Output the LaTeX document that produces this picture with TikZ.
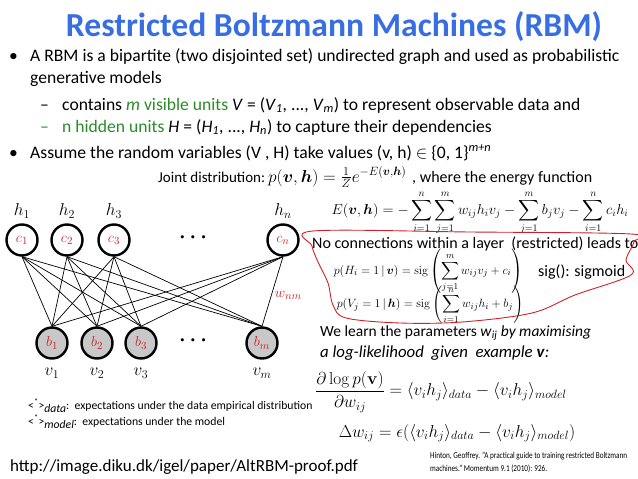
\documentclass[tikz,border=0pt]{standalone}
\usepackage{amsmath,amssymb}
\usepackage[no-math]{fontspec}
\setmainfont{Carlito}
\definecolor{titleblue}{RGB}{55,110,225}
\definecolor{unitgreen}{RGB}{40,140,40}
\definecolor{markred}{RGB}{205,35,40}
\definecolor{visgray}{RGB}{200,200,200}
\newcommand{\fs}[1]{\fontsize{#1}{#1}\selectfont}
\newcommand{\expsub}[1]{<\textsuperscript{*}>\raisebox{-0.55ex}{\textit{#1}}}
\tikzset{txt/.style={anchor=base west,inner sep=0pt},
 unit/.style={circle,draw,line width=2.4pt,minimum size=31pt,inner sep=0pt,font=\fs{15}},
 vis/.style={unit,fill=visgray},
 link/.style={line width=0.7pt},
 every node/.style={font=\fs{17.6}}}

\begin{document}
\begin{tikzpicture}[x=1pt,y=-1pt]
\useasboundingbox (0,0) rectangle (638,479);
\node[font=\fs{33.6}\bfseries,text=titleblue] (title) at (334,27) {Restricted Boltzmann Machines (RBM)};
\node[txt] (bul1) at (9,61) {•};
\node[txt] (line1) at (30,61) {A RBM is a bipartite (two disjointed set) undirected graph and used as probabilistic};
\node[txt] (line2) at (30,83) {generative models};
\node[txt] (dash1) at (40,110) {–};
\node[txt] (line3) at (62,110) {contains \textcolor{unitgreen}{\textit{m} visible units} \textit{V} = (\textit{V}\textsubscript{\textit{1}}, ..., \textit{V}\textsubscript{\textit{m}}) to represent observable data and};
\node[txt,text=unitgreen] (dash2) at (40,132) {–};
\node[txt] (line4) at (62,132) {\textcolor{unitgreen}{n hidden units} \textit{H} = (\textit{H}\textsubscript{\textit{1}}, ..., \textit{H}\textsubscript{\textit{n}}) to capture their dependencies};
\node[txt] (bul2) at (9,158) {•};
\node[txt] (line5) at (30,158) {Assume the random variables (V , H) take values (v, h) $\in$ \{0, 1\}\textsuperscript{\textit{m+n}}};
\node[txt,font=\fs{15}] (joint) at (158,182) {Joint distribution:};
\node[txt] (pjoint) at (268,182) {$p(\boldsymbol{v},\boldsymbol{h})=\frac{1}{Z}e^{-E(\boldsymbol{v},\boldsymbol{h})}$};
\node[txt,font=\fs{16}] (where) at (412,182) {, where the energy function};
\node[font=\fs{14.6}] (energy) at (480,213) {$\displaystyle E(\boldsymbol{v},\boldsymbol{h})=-\sum_{i=1}^{n}\sum_{j=1}^{m}w_{ij}h_iv_j-\sum_{j=1}^{m}b_jv_j-\sum_{i=1}^{n}c_ih_i$};
\node[txt,font=\fs{16}] (noconn) at (312,248) {No connections within a layer\ \ (restricted) leads to};
\node[font=\fs{12.5}] (pH) at (428,271) {$\displaystyle p(H_i=1\,|\,\boldsymbol{v})=\operatorname{sig}\left(\sum_{j=1}^{m}w_{ij}v_j+c_i\right)$};
\node[txt,font=\fs{16}] (sig) at (538,276) {sig(): sigmoid};
\node[font=\fs{12.5}] (pV) at (430,305) {$\displaystyle p(V_j=1\,|\,\boldsymbol{h})=\operatorname{sig}\left(\sum_{i=1}^{n}w_{ij}h_i+b_j\right)$};
\draw[markred,line width=0.9pt] plot[smooth cycle,tension=0.55] coordinates {(313,231) (470,232) (631,234) (634,242) (626,260) (631,275) (575,295) (532,313) (462,322) (400,323) (346,318) (333,305) (328,283) (318,262) (312,246)};
\node[txt,font=\fs{15.5}] (learn1) at (320,336) {We learn the parameters \textit{w}\textsubscript{\textit{ij}} \textit{by maximising}};
\node[txt,font=\fs{16.8}] (learn2) at (320,357) {\textit{a log-likelihood\ \ given\ \ example }\textbf{\textit{v}}\textit{:}};
\node[font=\fs{17.4}] (grad) at (441,392) {$\displaystyle\frac{\partial\log p(\mathbf{v})}{\partial w_{ij}}=\langle v_ih_j\rangle_{data}-\langle v_ih_j\rangle_{model}$};
\node[font=\fs{18.3}] (update) at (457,433) {$\Delta w_{ij}=\epsilon(\langle v_ih_j\rangle_{data}-\langle v_ih_j\rangle_{model})$};
\node[txt,font=\fs{11.7}] (note1) at (28,409) {\expsub{data}:\ \ expectations under the data empirical distribution};
\node[txt,font=\fs{11.7}] (note2) at (28,425) {\expsub{model}:\ \ expectations under the model};
\node[txt,font=\fs{17}] (url) at (10,471) {http://image.diku.dk/igel/paper/AltRBM-proof.pdf};
\node[txt,font=\fs{9}] (cite1) at (430,458) {\scalebox{0.8}[1]{Hinton, Geoffrey. "A practical guide to training restricted Boltzmann}};
\node[txt,font=\fs{9}] (cite2) at (430,471) {\scalebox{0.8}[1]{machines." Momentum 9.1 (2010): 926.}};
\foreach \i/\x in {1/22,2/67,3/114}{
  \node[unit] (h\i) at (\x,240) {$\color{markred}c_{\i}$};
  \node (lh\i) at (\x,211) {$h_{\i}$};
}
\node[unit] (hn) at (283,240) {$\color{markred}c_n$};
\node (lhn) at (283,211) {$h_n$};
\foreach \i/\x in {1/52,2/97,3/141}{
  \node[vis] (v\i) at (\x,343) {$\color{markred}b_{\i}$};
  \node (lv\i) at (\x,373) {$v_{\i}$};
}
\node[vis] (vm) at (262,343) {$\color{markred}b_m$};
\node (lvm) at (262,373) {$v_m$};
\node[font=\fs{22}] (hdots) at (195,238) {$\boldsymbol{\cdots}$};
\node[font=\fs{22}] (vdots) at (195,341) {$\boldsymbol{\cdots}$};
\foreach \a in {1,2,3,n}
  \foreach \b in {1,2,3,m}
    \draw[link] (h\a.south) -- (v\b.north);
\path (hn.south) -- (vm.north) node[pos=0.55,right,text=markred,font=\fs{15}] (wnm) {$w_{nm}$};
\end{tikzpicture}
\end{document}
